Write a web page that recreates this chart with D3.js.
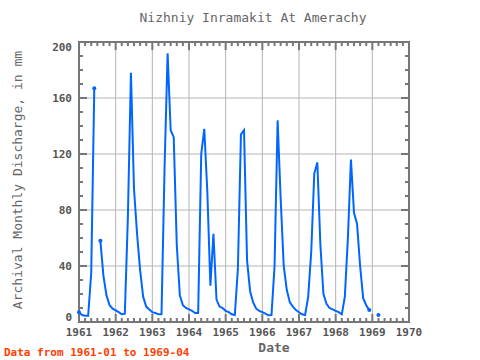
<!DOCTYPE html>
<html>
<head>
<meta charset="utf-8">
<script src="https://cdn.jsdelivr.net/npm/d3@7"></script>
<style>
  body { margin: 0; background: #fff; }
  text { font-family: "DejaVu Sans Mono", monospace; }
</style>
</head>
<body>
<svg id="chart" width="480" height="360"></svg>
<script>
// monthly discharge (mm), Jan..Dec, null = missing
const q1961 = [7, 5, 4.5, 4.5, 35, 167, null, 58, 33, 19, 12, 9.5];
const q1962 = [8.3, 7, 5.5, 6, 75, 178, 95, 63, 37, 18, 11, 9];
const q1963 = [7, 6.4, 5.5, 5.5, 110, 192, 137, 132, 55, 19, 12, 10];
const q1964 = [9, 8, 6.4, 6.4, 120, 138, 93, 26, 63, 16, 11, 10];
const q1965 = [8, 7, 5.5, 5, 38, 134, 137, 44, 22, 14, 9.5, 8];
const q1966 = [7, 6, 4.8, 5, 40, 144, 88, 40, 23, 14, 11, 8.5];
const q1967 = [7, 5.5, 5, 18, 50, 106, 114, 55, 20, 13, 10, 9];
const q1968 = [8, 7, 5.5, 18, 60, 116, 78, 70, 40, 17, 12, 8.5];
const q1969 = [null, null, 5, null];

const years = [1961, 1962, 1963, 1964, 1965, 1966, 1967, 1968, 1969];
const yearValues = [q1961, q1962, q1963, q1964, q1965, q1966, q1967, q1968, q1969];
const xTicks = [1961, 1962, 1963, 1964, 1965, 1966, 1967, 1968, 1969, 1970];
const yTicks = [0, 40, 80, 120, 160, 200];

// flatten to month points
const data = [];
years.forEach((yr, i) => {
  yearValues[i].forEach((v, m) => data.push({ t: yr + m / 12, v: v }));
});

const svg = d3.select("#chart");
const pL = 79, pR = 409, pT = 42, pB = 322;

const x = d3.scaleLinear().domain([1961, 1970]).range([pL, pR]);
const y = d3.scaleLinear().domain([0, 200]).range([pB, pT]);

const frame = "#777", grid = "#b4b4b4", ink = "#555";

// grid
svg.append("g").selectAll("line")
  .data(xTicks.slice(1, -1)).enter().append("line")
  .attr("x1", d => x(d)).attr("x2", d => x(d))
  .attr("y1", pT).attr("y2", pB)
  .attr("stroke", grid).attr("stroke-width", 1);
svg.append("g").selectAll("line")
  .data(yTicks.slice(1, -1)).enter().append("line")
  .attr("x1", pL).attr("x2", pR)
  .attr("y1", d => y(d)).attr("y2", d => y(d))
  .attr("stroke", grid).attr("stroke-width", 1);

// ticks: inward, minor every 10 mm / 2 months
const yMinor = d3.range(0, 201, 10);
const xMinor = d3.range(0, 9 * 6 + 1).map(i => 1961 + i / 6);
const tk = svg.append("g").attr("stroke", frame).attr("stroke-width", 2);
yMinor.forEach(v => {
  const len = v % 40 === 0 ? 8 : 4;
  tk.append("line").attr("x1", pL).attr("x2", pL + len).attr("y1", y(v)).attr("y2", y(v));
  tk.append("line").attr("x1", pR).attr("x2", pR - len).attr("y1", y(v)).attr("y2", y(v));
});
xMinor.forEach(t => {
  const major = Math.abs(t - Math.round(t)) < 1e-6;
  const len = major ? 8 : 4;
  tk.append("line").attr("x1", x(t)).attr("x2", x(t)).attr("y1", pT).attr("y2", pT + len);
  tk.append("line").attr("x1", x(t)).attr("x2", x(t)).attr("y1", pB).attr("y2", pB - len);
});

// frame
svg.append("rect")
  .attr("x", pL).attr("y", pT)
  .attr("width", pR - pL).attr("height", pB - pT)
  .attr("fill", "none").attr("stroke", frame).attr("stroke-width", 2);

// tick labels
svg.append("g").selectAll("text")
  .data(yTicks).enter().append("text")
  .attr("x", pL - 7)
  .attr("y", d => d === 0 ? y(d) - 5 : d === 200 ? y(d) + 5 : y(d))
  .attr("dy", "0.35em")
  .attr("text-anchor", "end")
  .style("font-size", "11px").style("font-weight", "bold")
  .attr("fill", ink)
  .text(d => d);

svg.append("g").selectAll("text")
  .data(xTicks).enter().append("text")
  .attr("x", d => x(d))
  .attr("y", pB + 10)
  .attr("dy", "0.35em")
  .attr("text-anchor", "middle")
  .style("font-size", "11px").style("font-weight", "bold")
  .attr("fill", ink)
  .text(d => d);

// series
const line = d3.line()
  .defined(d => d.v != null)
  .x(d => x(d.t))
  .y(d => y(d.v));

svg.append("path")
  .datum(data)
  .attr("d", line)
  .attr("fill", "none")
  .attr("stroke", "#0066ff")
  .attr("stroke-width", 2);

// dots where a neighbour is missing
const lone = data.filter((d, i) => d.v != null &&
  (i === 0 || data[i - 1].v == null || i === data.length - 1 || data[i + 1].v == null));
svg.append("g").selectAll("circle")
  .data(lone).enter().append("circle")
  .attr("cx", d => x(d.t)).attr("cy", d => y(d.v))
  .attr("r", 2).attr("fill", "#0066ff");

// titles
svg.append("text")
  .attr("x", 253).attr("y", 22)
  .attr("text-anchor", "middle")
  .style("font-size", "13px")
  .attr("fill", "#666")
  .text("Nizhniy Inramakit At Amerachy");

svg.append("text")
  .attr("transform", "translate(22,180) rotate(-90)")
  .attr("text-anchor", "middle")
  .style("font-size", "13px")
  .attr("fill", "#666")
  .text("Archival Monthly Discharge, in mm");

svg.append("text")
  .attr("x", 274).attr("y", 352)
  .attr("text-anchor", "middle")
  .style("font-size", "13px").style("font-weight", "bold")
  .attr("fill", "#666")
  .text("Date");

svg.append("text")
  .attr("x", 4).attr("y", 356)
  .style("font-size", "11px").style("font-weight", "bold")
  .attr("fill", "#ff4000")
  .text("Data from 1961-01 to 1969-04");
</script>
</body>
</html>
